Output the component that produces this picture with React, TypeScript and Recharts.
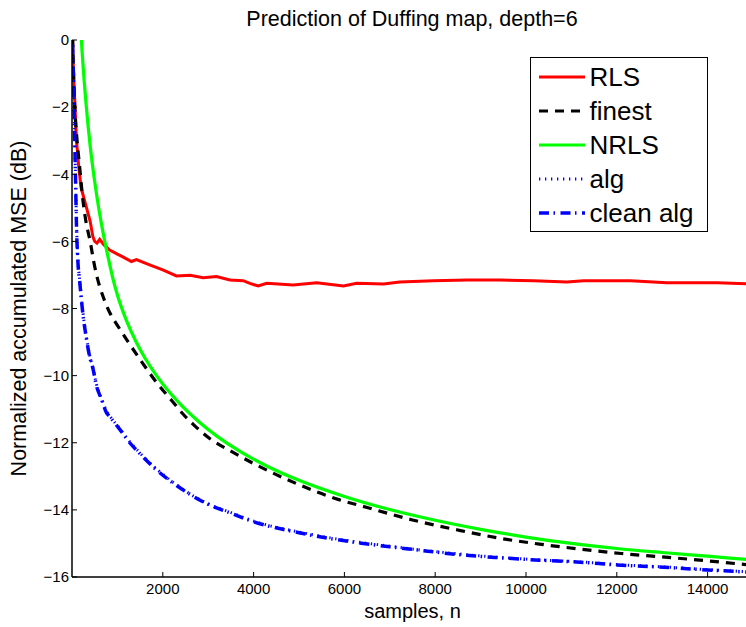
import React from 'react';
import { LineChart, Line, XAxis, YAxis, Legend } from 'recharts';

const FONT = '"Liberation Sans", Arial, Helvetica, sans-serif';

const titleText = 'Prediction of Duffing map, depth=6';
const xLabel = 'samples, n';
const yLabel = 'Normalized accumulated MSE (dB)';

const xTicks = [2000, 4000, 6000, 8000, 10000, 12000, 14000];
const yTicks = [-16, -14, -12, -10, -8, -6, -4, -2, 0];

const seriesNames = ['RLS', 'finest', 'NRLS', 'alg', 'clean alg'];

const rlsN = [1, 20, 50, 100, 150, 200, 300, 400, 460, 500, 550, 610, 700, 830, 1000, 1120, 1310, 1420, 1710, 2000, 2300, 2600, 2890, 3180, 3480, 3770, 3920, 4100, 4290, 4870, 5390, 5980, 6270, 6860, 7220, 7960, 8700, 9430, 10170, 10900, 11270, 12300, 13100, 14210, 15000];
const rlsV = [0.8, -0.5, -1.5, -3.0, -3.8, -4.4, -4.9, -5.4, -5.86, -6.0, -6.05, -5.94, -6.1, -6.26, -6.38, -6.46, -6.6, -6.54, -6.7, -6.85, -7.03, -7.01, -7.08, -7.05, -7.15, -7.17, -7.25, -7.33, -7.25, -7.3, -7.23, -7.33, -7.25, -7.27, -7.21, -7.17, -7.15, -7.15, -7.17, -7.21, -7.17, -7.17, -7.23, -7.23, -7.27];

const finestN = [1, 20, 40, 60, 100, 170, 243, 300, 400, 500, 560, 700, 830, 1000, 1200, 1500, 1860, 2200, 2450, 2670, 3040, 3500, 4000, 4500, 5000, 5800, 6500, 7500, 8500, 9400, 10300, 11200, 12100, 13000, 14000, 15000];
const finestV = [1.0, -0.3, -1.3, -2.0, -2.8, -3.8, -4.8, -5.35, -6.0, -6.75, -7.1, -7.7, -8.12, -8.5, -8.92, -9.52, -10.2, -10.75, -11.15, -11.45, -11.88, -12.25, -12.62, -12.95, -13.25, -13.66, -13.93, -14.3, -14.6, -14.84, -15.02, -15.17, -15.3, -15.4, -15.52, -15.65];

const nrlsN = [1, 50, 100, 150, 207, 300, 400, 500, 600, 700, 800, 900, 1000, 1200, 1400, 1600, 1800, 2000, 2400, 2800, 3200, 3700, 4300, 5000, 6000, 7000, 8000, 9000, 10000, 11000, 12000, 13000, 14000, 15000];
const nrlsV = [20.0, 6.9, 3.5, 1.55, 0.0, -1.75, -3.15, -4.22, -5.1, -5.85, -6.5, -7.1, -7.6, -8.36, -8.96, -9.46, -9.88, -10.25, -10.87, -11.38, -11.81, -12.26, -12.7, -13.12, -13.6, -13.99, -14.31, -14.58, -14.81, -15.0, -15.15, -15.27, -15.38, -15.49];

const algN = [1, 20, 40, 60, 80, 100, 130, 170, 243, 300, 390, 463, 538, 648, 758, 831, 1052, 1272, 1493, 1861, 2227, 2963, 3500, 3991, 5000, 5900, 7000, 7520, 8500, 9358, 10300, 11195, 12000, 13032, 14000, 15000];
const algV = [0.6, -0.4, -1.4, -2.9, -4.2, -5.5, -6.55, -7.15, -8.15, -8.7, -9.4, -9.78, -10.25, -10.68, -11.05, -11.2, -11.58, -11.97, -12.3, -12.78, -13.18, -13.8, -14.08, -14.33, -14.66, -14.88, -15.08, -15.17, -15.31, -15.41, -15.49, -15.55, -15.63, -15.7, -15.78, -15.85];

const cleanN = [1, 20, 40, 60, 80, 100, 130, 170, 243, 300, 390, 463, 538, 648, 758, 831, 1052, 1272, 1493, 1861, 2227, 2963, 3500, 3991, 5000, 5900, 7000, 7520, 8500, 9358, 10300, 11195, 12000, 13032, 14000, 15000];
const cleanV = [0.5, -0.5, -1.5, -3.0, -4.3, -5.6, -6.6, -7.2, -8.2, -8.75, -9.44, -9.8, -10.3, -10.7, -11.1, -11.22, -11.6, -12.0, -12.32, -12.81, -13.2, -13.81, -14.1, -14.35, -14.68, -14.9, -15.1, -15.18, -15.33, -15.42, -15.5, -15.56, -15.64, -15.71, -15.79, -15.86];

const toRows = (ns: number[], vs: number[]) => ns.map((n, i) => ({ n, v: vs[i] }));

const seriesData: Record<string, { n: number; v: number }[]> = {
  RLS: toRows(rlsN, rlsV),
  finest: toRows(finestN, finestV),
  NRLS: toRows(nrlsN, nrlsV),
  alg: toRows(algN, algV),
  'clean alg': toRows(cleanN, cleanV),
};

type LS = { stroke: string; strokeWidth: number; strokeDasharray?: string; curve: 'linear' | 'monotone' };
const lineStyles: Record<string, LS> = {
  RLS: { stroke: '#ff0000', strokeWidth: 3, curve: 'linear' },
  finest: { stroke: '#000000', strokeWidth: 3.2, strokeDasharray: '9 7', curve: 'monotone' },
  NRLS: { stroke: '#00ff00', strokeWidth: 3.2, curve: 'monotone' },
  alg: { stroke: '#0000ff', strokeWidth: 3, strokeDasharray: '1.3 4.7', curve: 'monotone' },
  'clean alg': { stroke: '#0000ff', strokeWidth: 3.5, strokeDasharray: '10 4.5 1.5 5.5', curve: 'monotone' },
};

const fmtY = (v: number) => (v === 0 ? '0' : (v < 0 ? '\u2212' : '') + Math.abs(v));

const LegendBox = (props: any) => {
  const payload: any[] = props.payload || [];
  const names = payload
    .map((p) => String(p.value))
    .sort((a, b) => seriesNames.indexOf(a) - seriesNames.indexOf(b));
  return (
    <div
      style={{
        width: 178,
        height: 175,
        boxSizing: 'border-box',
        border: '1.5px solid #000',
        background: '#fff',
        paddingTop: 2,
        paddingLeft: 7.5,
        fontFamily: FONT,
      }}
    >
      {names.map((name) => {
        const s = lineStyles[name];
        return (
          <div key={name} style={{ height: 34, display: 'flex', alignItems: 'center' }}>
            <svg width={46} height={12} style={{ display: 'block' }}>
              <line
                x1={0}
                y1={6}
                x2={46}
                y2={6}
                stroke={s.stroke}
                strokeWidth={s.strokeWidth}
                strokeDasharray={s.strokeDasharray}
              />
            </svg>
            <span style={{ marginLeft: 5, fontSize: 26, lineHeight: '34px', color: '#000', whiteSpace: 'nowrap' }}>{name}</span>
          </div>
        );
      })}
    </div>
  );
};

export default function App() {
  return (
    <div
      style={{
        position: 'fixed',
        left: 0,
        top: 0,
        width: 746,
        height: 627,
        overflow: 'hidden',
        background: '#fff',
      }}
    >
      <div
        style={{
          position: 'absolute',
          left: 412,
          top: 9,
          transform: 'translateX(-50%)',
          whiteSpace: 'nowrap',
          fontFamily: FONT,
          fontSize: 21.5,
          lineHeight: '21px',
          color: '#000',
          zIndex: 2,
        }}
      >
        {titleText}
      </div>
      <LineChart width={753} height={627} margin={{ top: 40, right: 0, bottom: 0, left: 0 }}>
        <XAxis
          xAxisId="top"
          orientation="top"
          type="number"
          dataKey="n"
          domain={[0, 15000]}
          ticks={xTicks}
          allowDataOverflow
          height={0}
          tick={false}
          tickSize={-5}
          axisLine={{ stroke: '#000', strokeWidth: 1.5 }}
          tickLine={{ stroke: '#000', strokeWidth: 1 }}
        />
        <XAxis
          type="number"
          dataKey="n"
          domain={[0, 15000]}
          ticks={xTicks}
          allowDataOverflow
          height={50}
          tickSize={-5}
          tickMargin={11}
          axisLine={{ stroke: '#000', strokeWidth: 1.5 }}
          tickLine={{ stroke: '#000', strokeWidth: 1 }}
          tick={{ fontSize: 15, fill: '#000', fontFamily: FONT }}
          label={{ value: xLabel, position: 'insideBottom', offset: 9, style: { fontSize: 20, fill: '#000', fontFamily: FONT } }}
        />
        <YAxis
          type="number"
          domain={[-16, 0]}
          ticks={yTicks}
          allowDataOverflow
          width={72}
          tickSize={-5}
          tickMargin={8}
          tickFormatter={fmtY}
          axisLine={{ stroke: '#000', strokeWidth: 1.5 }}
          tickLine={{ stroke: '#000', strokeWidth: 1 }}
          tick={{ fontSize: 15, fill: '#000', fontFamily: FONT }}
          label={{
            value: yLabel,
            angle: -90,
            position: 'insideLeft',
            offset: 18,
            style: { fontSize: 21.5, fill: '#000', fontFamily: FONT, textAnchor: 'middle' },
          }}
        />
        {seriesNames.map((name) => {
          const s = lineStyles[name];
          return (
            <Line
              key={name}
              name={name}
              data={seriesData[name]}
              dataKey="v"
              type={s.curve}
              stroke={s.stroke}
              strokeWidth={s.strokeWidth}
              strokeDasharray={s.strokeDasharray}
              dot={false}
              activeDot={false}
              isAnimationActive={false}
            />
          );
        })}
        <Legend
          layout="vertical"
          align="center"
          verticalAlign="middle"
          content={<LegendBox />}
          wrapperStyle={{ left: 530, top: 57, width: 178, height: 175 }}
        />
      </LineChart>
    </div>
  );
}
